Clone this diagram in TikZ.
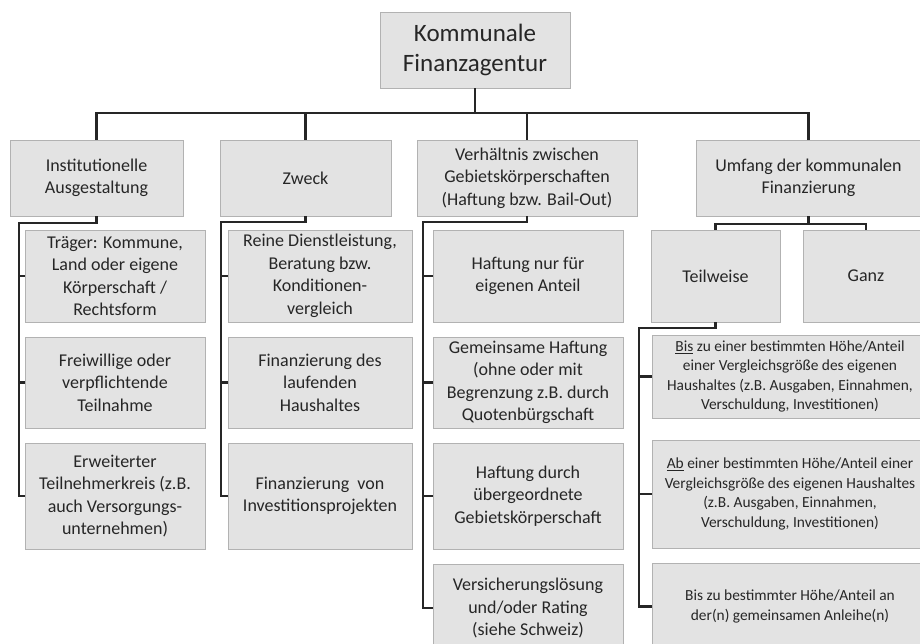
\documentclass[tikz,border=0pt]{standalone}
\usepackage{fontspec}
\setmainfont{Carlito}
\begin{document}
\begin{tikzpicture}[x=1pt,y=-1pt,
  box/.style={draw=gray!60, line width=0.8pt, fill=gray!22, align=center, inner sep=2pt,
    text=black!85, font=\fontsize{18}{22.5}\selectfont},
  rootbox/.style={box, font=\fontsize{25}{30}\selectfont},
  smallbox/.style={box, font=\fontsize{15.4}{19.5}\selectfont},
  conn/.style={draw=black!85, line width=2.4pt}]
\useasboundingbox[fill=white] (0,0) rectangle (920,643);

% root
\node[rootbox, minimum width=190, minimum height=76] (root) at (475,50) {Kommunale\\Finanzagentur};

% level 1
\node[box, minimum width=173, minimum height=76] (b1) at (96.5,178) {Institutionelle\\Ausgestaltung};
\node[box, minimum width=171, minimum height=76] (b2) at (305.5,178) {Zweck};
\node[box, minimum width=220, minimum height=76] (b3) at (527,178) {Verhältnis zwischen\\Gebietskörperschaften\\(Haftung bzw. Bail-Out)};
\node[box, minimum width=225, minimum height=76] (b4) at (808.5,178) {Umfang der kommunalen\\Finanzierung};

% column 1
\node[box, minimum width=180, minimum height=92] (c11) at (115,276) {Träger: Kommune,\\Land oder eigene\\Körperschaft /\\Rechtsform};
\node[box, minimum width=180, minimum height=91] (c12) at (115,382.5) {Freiwillige oder\\verpflichtende\\Teilnahme};
\node[box, minimum width=180, minimum height=106] (c13) at (115,496) {Erweiterter\\Teilnehmerkreis (z.B.\\auch Versorgungs-\\unternehmen)};

% column 2
\node[box, minimum width=184, minimum height=92] (c21) at (320,276) {Reine Dienstleistung,\\Beratung bzw.\\Konditionen-\\vergleich};
\node[box, minimum width=184, minimum height=91] (c22) at (320,382.5) {Finanzierung des\\laufenden\\Haushaltes};
\node[box, minimum width=184, minimum height=106] (c23) at (320,496) {Finanzierung\ \ von\\Investitionsprojekten};

% column 3
\node[box, minimum width=190, minimum height=92] (c31) at (528,276) {Haftung nur für\\eigenen Anteil};
\node[box, minimum width=190, minimum height=91] (c32) at (528,382.5) {Gemeinsame Haftung\\(ohne oder mit\\Begrenzung z.B. durch\\Quotenbürgschaft};
\node[box, minimum width=190, minimum height=106] (c33) at (528,496) {Haftung durch\\übergeordnete\\Gebietskörperschaft};
\node[box, minimum width=190, minimum height=88] (c34) at (528,608) {Versicherungslösung\\und/oder Rating\\(siehe Schweiz)};

% column 4
\node[box, minimum width=129, minimum height=92] (tw) at (715.5,276) {Teilweise};
\node[box, minimum width=126, minimum height=92] (ganz) at (866,276) {Ganz};
\node[smallbox, minimum width=276, minimum height=83] (c41) at (790,376.5) {\underline{Bis} zu einer bestimmten Höhe/Anteil\\einer Vergleichsgröße des eigenen\\Haushaltes (z.B. Ausgaben, Einnahmen,\\Verschuldung, Investitionen)};
\node[smallbox, minimum width=276, minimum height=108] (c42) at (790,494) {\underline{Ab} einer bestimmten Höhe/Anteil einer\\Vergleichsgröße des eigenen Haushaltes\\(z.B. Ausgaben, Einnahmen,\\Verschuldung, Investitionen)};
\node[smallbox, minimum width=276, minimum height=87] (c43) at (790,606.5) {Bis zu bestimmter Höhe/Anteil an\\der(n) gemeinsamen Anleihe(n)};

% junction coordinates
\coordinate (bus) at (475,113);
\coordinate (j1) at (19,223);
\coordinate (j2) at (221,222);
\coordinate (j3) at (423,222);
\coordinate (j4) at (808.5,224);
\coordinate (j5) at (639,328);

% connectors
\draw[conn] (root.south) -- (bus);
\draw[conn] (b1.north) |- (bus) -| (b4.north);
\draw[conn] (b2.north) -- (b2.north |- bus);
\draw[conn] (b3.north) -- (b3.north |- bus);

\draw[conn] (b1.south) |- (j1) |- (c13.west);
\draw[conn] (j1) |- (c11.west);
\draw[conn] (j1) |- (c12.west);

\draw[conn] (b2.south) |- (j2) |- (c23.west);
\draw[conn] (j2) |- (c21.west);
\draw[conn] (j2) |- (c22.west);

\draw[conn] (b3.south) |- (j3) |- (c34.west);
\draw[conn] (j3) |- (c31.west);
\draw[conn] (j3) |- (c32.west);
\draw[conn] (j3) |- (c33.west);

\draw[conn] (b4.south) -- (j4);
\draw[conn] (tw.north) |- (j4) -| (ganz.north);

\draw[conn] (tw.south) |- (j5) |- (c43.west);
\draw[conn] (j5) |- (c41.west);
\draw[conn] (j5) |- (c42.west);
\end{tikzpicture}
\end{document}
